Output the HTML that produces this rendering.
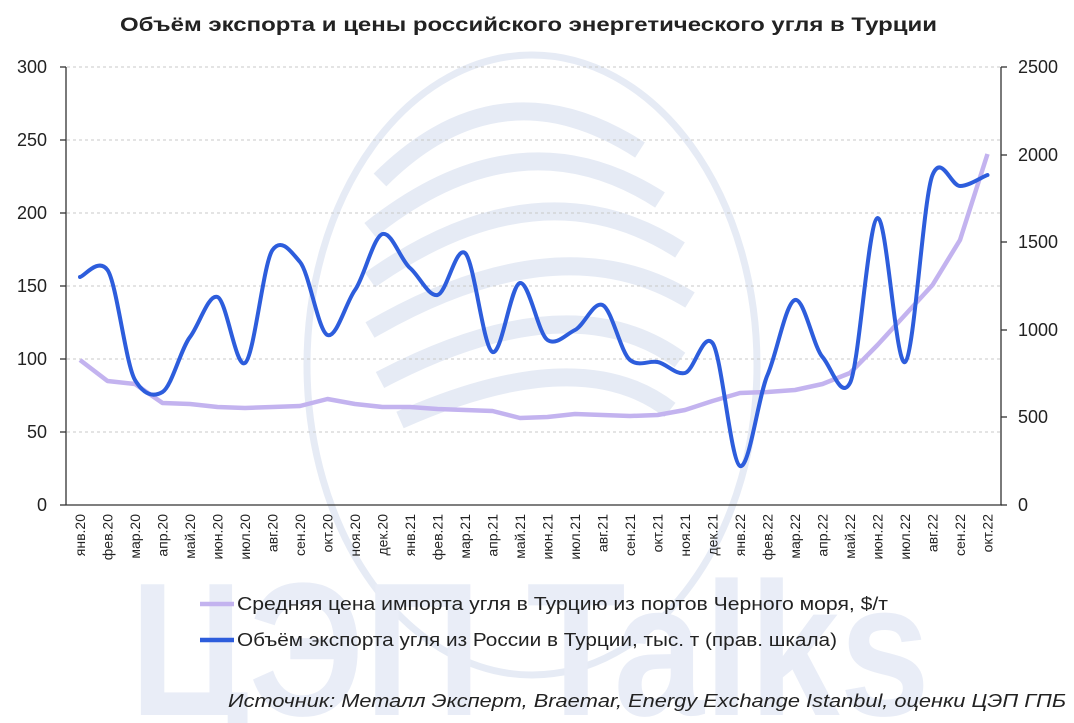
<!DOCTYPE html>
<html><head><meta charset="utf-8"><style>
html,body{margin:0;background:#fff;width:1074px;height:723px;overflow:hidden;}
svg{display:block;font-family:"Liberation Sans","DejaVu Sans",sans-serif;}
</style></head><body>
<svg width="1074" height="723" viewBox="0 0 1074 723" xmlns="http://www.w3.org/2000/svg">
<rect width="1074" height="723" fill="#fff"/>
<!-- watermark -->
<g fill="none" stroke="#e6ebf5">
<ellipse cx="532" cy="365" rx="225" ry="310" stroke-width="7"/>
<path d="M380 180 Q500 60 640 150" stroke-width="18"/>
<path d="M370 230 Q520 110 660 200" stroke-width="18"/>
<path d="M370 280 Q540 160 680 250" stroke-width="18"/>
<path d="M370 330 Q560 220 690 300" stroke-width="18"/>
<path d="M380 380 Q570 280 680 360" stroke-width="18"/>
<path d="M400 420 Q580 340 670 410" stroke-width="18"/>
</g>
<text x="130" y="715" font-size="190" font-weight="bold" fill="#e9edf7" textLength="800" lengthAdjust="spacingAndGlyphs">ЦЭП Talks</text>
<!-- title -->
<text x="120" y="31" font-size="19" font-weight="bold" fill="#222" textLength="817" lengthAdjust="spacingAndGlyphs">Объём экспорта и цены российского энергетического угля в Турции</text>
<!-- grid -->
<g stroke="#c8c8c8" stroke-dasharray="3,3" stroke-width="1">
<line x1="67" y1="67" x2="1000" y2="67"/><line x1="67" y1="140" x2="1000" y2="140"/>
<line x1="67" y1="213" x2="1000" y2="213"/><line x1="67" y1="286" x2="1000" y2="286"/>
<line x1="67" y1="359" x2="1000" y2="359"/><line x1="67" y1="432" x2="1000" y2="432"/>
</g>
<g stroke="#333" stroke-width="1.3">
<line x1="66" y1="67" x2="66" y2="505"/><line x1="66" y1="505" x2="1002" y2="505"/>
<line x1="1001" y1="67" x2="1001" y2="505"/>
<line x1="60" y1="67" x2="66" y2="67"/><line x1="60" y1="140" x2="66" y2="140"/><line x1="60" y1="213" x2="66" y2="213"/><line x1="60" y1="286" x2="66" y2="286"/><line x1="60" y1="359" x2="66" y2="359"/><line x1="60" y1="432" x2="66" y2="432"/><line x1="60" y1="505" x2="66" y2="505"/>
<line x1="1001" y1="67" x2="1007" y2="67"/><line x1="1001" y1="155" x2="1007" y2="155"/><line x1="1001" y1="242" x2="1007" y2="242"/><line x1="1001" y1="330" x2="1007" y2="330"/><line x1="1001" y1="417" x2="1007" y2="417"/><line x1="1001" y1="505" x2="1007" y2="505"/>
</g>
<g font-size="18" fill="#222" text-anchor="end">
<text x="47" y="73">300</text><text x="47" y="146">250</text><text x="47" y="219">200</text><text x="47" y="292">150</text><text x="47" y="365">100</text><text x="47" y="438">50</text><text x="47" y="511">0</text>
</g>
<g font-size="18" fill="#222" text-anchor="start">
<text x="1018" y="73">2500</text><text x="1018" y="161">2000</text><text x="1018" y="248">1500</text><text x="1018" y="336">1000</text><text x="1018" y="423">500</text><text x="1018" y="511">0</text>
</g>
<g id="xl" font-size="14" fill="#222" text-anchor="end"></g>
<path id="pur" fill="none" stroke="#c3b3ef" stroke-width="4.5" stroke-linejoin="round"/>
<path id="blu" fill="none" stroke="#2d5ddc" stroke-width="4" stroke-linejoin="round" stroke-linecap="round"/>
<!-- legend -->
<line x1="200" y1="604" x2="234" y2="604" stroke="#c3b3ef" stroke-width="4.5"/>
<text x="237" y="610" font-size="18" fill="#222" textLength="651" lengthAdjust="spacingAndGlyphs">Средняя цена импорта угля в Турцию из портов Черного моря, $/т</text>
<line x1="200" y1="640" x2="234" y2="640" stroke="#2d5ddc" stroke-width="4.5"/>
<text x="237" y="646" font-size="18" fill="#222" textLength="600" lengthAdjust="spacingAndGlyphs">Объём экспорта угля из России в Турции, тыс. т (прав. шкала)</text>
<text x="228" y="707" font-size="18" font-style="italic" fill="#222" textLength="838" lengthAdjust="spacingAndGlyphs">Источник: Металл Эксперт, Braemar, Energy Exchange Istanbul, оценки ЦЭП ГПБ</text>
</svg>
<script>
var labels=["янв.20","фев.20","мар.20","апр.20","май.20","июн.20","июл.20","авг.20","сен.20","окт.20","ноя.20","дек.20","янв.21","фев.21","мар.21","апр.21","май.21","июн.21","июл.21","авг.21","сен.21","окт.21","ноя.21","дек.21","янв.22","фев.22","мар.22","апр.22","май.22","июн.22","июл.22","авг.22","сен.22","окт.22"];
var b=[277,270,380,392,337,297,363,250,262,335,290,234,268,295,253,352,283,340,330,305,360,362,373,343,466,375,300,357,383,218,362,175,186,175];
var p=[360,381,384,403,404,407,408,407,406,399,404,407,407,409,410,411,418,417,414,415,416,415,410,401,393,392,390,384,373,345,315,285,240,154];
var X=function(i){return 80+i*27.5;};
var g=document.getElementById('xl'),s="";
labels.forEach(function(l,i){var x=X(i)+5;s+='<text transform="translate('+x+',514) rotate(-90)">'+l+'</text>';});
g.innerHTML=s;
var d="M"+X(0)+" "+p[0];for(var i=1;i<p.length;i++)d+=" L"+X(i)+" "+p[i];
document.getElementById('pur').setAttribute('d',d);
var n=b.length;d="M"+X(0)+" "+b[0];
for(var i=0;i<n-1;i++){var p0=i>0?i-1:i,p3=i+2<n?i+2:i+1;
var k=8;
var c1x=X(i)+(X(i+1)-X(p0))/6,c1y=b[i]+(b[i+1]-b[p0])/k,c2x=X(i+1)-(X(p3)-X(i))/6,c2y=b[i+1]-(b[p3]-b[i])/k;
d+=" C"+c1x+" "+c1y+" "+c2x+" "+c2y+" "+X(i+1)+" "+b[i+1];}
document.getElementById('blu').setAttribute('d',d);
</script>
</body></html>
